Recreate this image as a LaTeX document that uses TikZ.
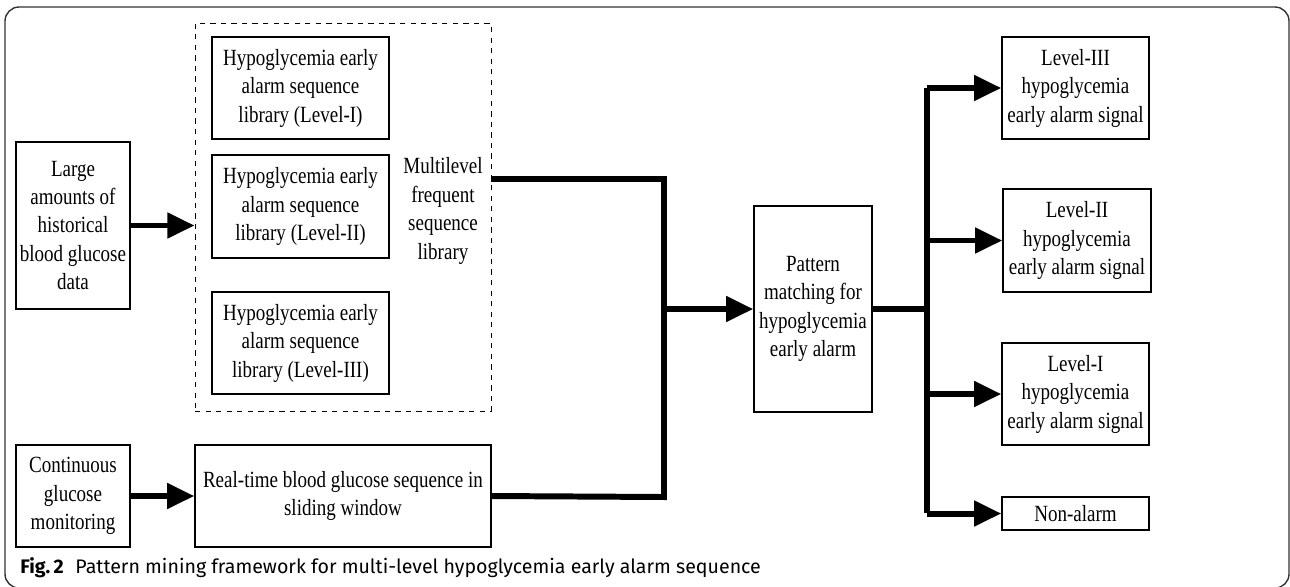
\documentclass[tikz,border=0pt]{standalone}
\usepackage{fontspec}
\setmainfont{Liberation Serif}[FakeStretch=0.82]
\newfontfamily\capfont{Fira Sans}
\usepackage{tikz}
\usetikzlibrary{arrows.meta, positioning}

\begin{document}
\begin{tikzpicture}[x=0.02cm, y=-0.02cm,
  b/.style={draw, line width=0.8pt, align=center, inner sep=0pt,
    font=\fontsize{13.2}{16.2}\selectfont},
  db/.style={draw, dashed, line width=0.5pt, inner sep=0pt},
  ln/.style={line width=3.4pt},
  e/.style={line width=3.4pt, -{Triangle[length=15.5pt, width=14pt]}}]
  \clip (0,0) rectangle (1290,586);
  \draw[line width=0.8pt, black!80, rounded corners=8pt] (5,7) rectangle (1289,588);
  % left column
  \node[b, minimum width=2.28cm, minimum height=3.34cm] (big) at (73,225.5)
    {Large\\amounts of\\historical\\blood glucose\\data};
  \node[b, minimum width=2.28cm, minimum height=2.04cm] (cgm) at (73,496)
    {Continuous\\glucose\\monitoring};
  % frequent sequence library
  \node[db, minimum width=5.92cm, minimum height=7.76cm] (lib) at (343,217) {};
  \node[b, minimum width=3.54cm, minimum height=2.04cm] (h1) at (300.5,88)
    {Hypoglycemia early\\alarm sequence\\library (Level-I)};
  \node[b, minimum width=3.54cm, minimum height=2.06cm] (h2) at (300.5,206.5)
    {Hypoglycemia early\\alarm sequence\\library (Level-II)};
  \node[b, minimum width=3.54cm, minimum height=2.04cm] (h3) at (300.5,343)
    {Hypoglycemia early\\alarm sequence\\library (Level-III)};
  \node[b, draw=none] (ml) at (443,211)
    {Multilevel\\frequent\\sequence\\library};
  \node[b, minimum width=5.92cm, minimum height=2.04cm] (rt) at (343,496)
    {Real-time blood glucose sequence in\\sliding window};
  % matching
  \node[b, minimum width=2.36cm, minimum height=4.12cm] (match) at (813,309)
    {Pattern\\matching for\\hypoglycemia\\early alarm};
  % outputs
  \node[b, minimum width=2.94cm, minimum height=2.04cm] (l3) at (1075.5,88)
    {Level-III\\hypoglycemia\\early alarm signal};
  \node[b, minimum width=2.96cm, minimum height=2.06cm] (l2) at (1077,240.5)
    {Level-II\\hypoglycemia\\early alarm signal};
  \node[b, minimum width=2.94cm, minimum height=2.04cm] (l1) at (1075.5,394)
    {Level-I\\hypoglycemia\\early alarm signal};
  \node[b, minimum width=2.94cm, minimum height=0.66cm] (non) at (1075.5,513.5)
    {Non-alarm};
  \coordinate (libout) at (491,179);
  \coordinate (busT) at (664,179);
  \coordinate (busB) at (664,497);
  \coordinate (fanT) at (927,88);
  \coordinate (fanB) at (927,513);
  % connectors
  \draw[e] (big.east) -- (big.east -| lib.west);
  \draw[e] (cgm.east) -- (rt.west);
  \draw[ln] (libout) -- (busT) -- (busB) -- (rt.east);
  \draw[e] (busT |- match.west) -- (match.west);
  \draw[ln] (match.east) -- (match.east -| fanT);
  \draw[ln] (fanT) -- (fanB);
  \foreach \n in {l3, l2, l1, non}
    \draw[e] (fanT |- \n.west) -- (\n.west);
  % caption
  \node[anchor=base west, inner sep=0pt, font=\capfont\fontsize{11.15}{13}\selectfont]
    (cap) at (20,573) {\textbf{Fig.\,2}\hspace{0.6em}Pattern mining framework for multi-level hypoglycemia early alarm sequence};
\end{tikzpicture}
\end{document}
